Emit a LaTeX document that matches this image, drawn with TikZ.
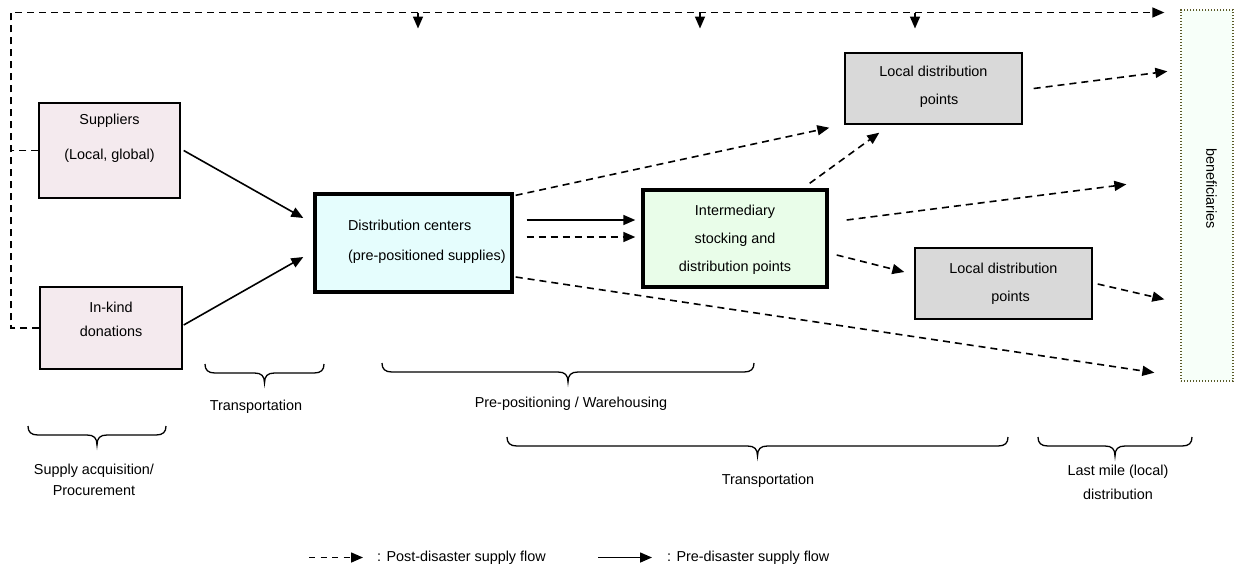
\documentclass[tikz,border=0pt]{standalone}
\usepackage{fontspec}
\setmainfont{Liberation Sans}
\usetikzlibrary{arrows.meta,calc}
\definecolor{pinkbox}{RGB}{244,234,238}
\definecolor{cyanbox}{RGB}{229,253,253}
\definecolor{greenbox}{RGB}{233,253,233}
\definecolor{graybox}{RGB}{217,217,217}
\definecolor{benfill}{RGB}{247,255,249}
\definecolor{benline}{RGB}{90,90,40}
% width, height, top gap, baselineskip, alignment, content
\newcommand{\boxtxt}[6]{\parbox[c][#2][t]{#1}{\fontsize{14.4}{#4}\selectfont #5\vspace*{#3}#6\par}}
% brace: x1, x2, y top
\newcommand{\mycurly}[3]{%
  \pgfmathsetmacro{\cmid}{(#1+#2)/2}%
  \draw[brc] (#1,#3) .. controls (#1,#3+6) and (#1+3,#3+9) .. (#1+10,#3+9)
    -- (\cmid-10,#3+9) .. controls (\cmid-3,#3+9) and (\cmid,#3+12) .. (\cmid,#3+19)
    .. controls (\cmid,#3+12) and (\cmid+3,#3+9) .. (\cmid+10,#3+9)
    -- (#2-10,#3+9) .. controls (#2-3,#3+9) and (#2,#3+6) .. (#2,#3);}
\begin{document}
\begin{tikzpicture}[x=1pt,y=-1pt,font=\fontsize{14.4}{17}\selectfont,
  box/.style={draw, inner sep=0pt, line width=1.4pt},
  thickbox/.style={draw, inner sep=0pt, line width=3.4pt},
  pre/.style={line width=1.6pt, -{Triangle[length=12pt,width=10pt]}},
  post/.style={line width=1.6pt, dash pattern=on 7pt off 5pt, -{Triangle[length=12pt,width=10pt]}},
  dsh/.style={line width=1.6pt, dash pattern=on 7pt off 5pt},
  brc/.style={line width=1.3pt},
  lbl/.style={inner sep=0pt, align=center}]
\useasboundingbox (0,0) rectangle (1235,566);

% boxes
\node[box, fill=pinkbox] (sup) at (109.5,150.5)
  {\boxtxt{141pt}{95pt}{11.5pt}{35pt}{\centering}{Suppliers\\(Local, global)}};
\node[box, fill=pinkbox] (ink) at (111,328)
  {\boxtxt{142pt}{82pt}{15.5pt}{24pt}{\centering}{In-kind\\donations}};
\node[thickbox, fill=cyanbox] (dc) at (413.5,243)
  {\boxtxt{197pt}{98pt}{26.5pt}{30pt}{\raggedright\leftskip=33pt}{Distribution centers\\(pre-positioned supplies)}};
\node[thickbox, fill=greenbox] (int) at (735,238.5)
  {\boxtxt{184pt}{97pt}{15.5pt}{28pt}{\centering}{Intermediary\\stocking and\\distribution points}};
\node[box, fill=graybox] (ldt) at (933.5,88.5)
  {\boxtxt{177pt}{71pt}{13.5pt}{28pt}{\centering}{Local distribution\\\hspace*{11pt}points}};
\node[box, fill=graybox] (ldb) at (1003.5,283.5)
  {\boxtxt{177pt}{71pt}{15.5pt}{28pt}{\centering}{Local distribution\\\hspace*{14pt}points}};
\node[draw=benline, fill=benfill, line width=1.3pt, dash pattern=on 1.3pt off 1.7pt, inner sep=0pt] (ben) at (1207,195.5)
  {\parbox[c][371pt][t]{52pt}{\centering\vspace*{138pt}\hspace*{9pt}\rotatebox{-90}{beneficiaries}\par}};

% feedback / top line
\coordinate (tl) at (11,12.5);
\draw[post] (ink.west) -| (tl) -- ($(ben.north west |- tl)+(-16,0)$);
\draw[dsh] (sup.west) -- (sup.west -| tl);
\foreach \x [count=\i] in {418,700,915} {
  \coordinate (d\i) at (\x,12.5);
  \draw[pre] (d\i) -- ++(0,16);
}

% pre-disaster flows
\draw[pre] ($(sup.east)+(3,0)$) -- ($(dc.west)+(-10,-25)$);
\draw[pre] ($(ink.east)+(1,-3)$) -- ($(dc.west)+(-10,14)$);
\draw[pre] ($(dc.east)+(13,-23)$) -- ($(int.west)+(-6,-18.5)$);

% post-disaster flows
\draw[post] ($(dc.east)+(13,-6)$) -- ($(int.west)+(-6,-1.5)$);
\draw[post] ($(dc.north east)+(2,3)$) -- ($(ldt.south west)+(-15,3)$);
\draw[post] ($(int.north east)+(-19,-5)$) -- ($(ldt.south west)+(35,8)$);
\draw[post] ($(ldt.east)+(11,0)$) -- ($(ben.north west)+(-13,62)$);
\draw[post] ($(int.east)+(18,-18.5)$) -- ($(ben.north west)+(-54,175)$);
\draw[post] ($(int.east)+(8,16.5)$) -- ($(ldb.west)+(-10,-11.5)$);
\draw[post] ($(ldb.east)+(5,0.5)$) -- ($(ben.north west)+(-16,290)$);
\draw[post] ($(dc.east)+(2,34)$) -- ($(ben.south west)+(-26,-9)$);

% braces
\mycurly{28}{166}{426}
\mycurly{205}{324}{364}
\mycurly{382}{754}{363}
\mycurly{507}{1008}{437}
\mycurly{1038}{1192}{437}

% brace labels
\node[lbl] (tTr1) at (256,407) {Transportation};
\node[lbl] (tPre) at (571,404) {Pre-positioning / Warehousing};
\node[lbl, font=\fontsize{14.4}{21}\selectfont] (tSup) at (94,480) {Supply acquisition/\\Procurement};
\node[lbl] (tTr2) at (768,480.5) {Transportation};
\node[lbl, font=\fontsize{14.4}{24}\selectfont] (tLast) at (1118,482) {Last mile (local)\\distribution};

% legend
\coordinate (lg1a) at (309,557.5);
\coordinate (lg1b) at (363,557.5);
\draw[post, dash pattern=on 6pt off 5.5pt] (lg1a) -- (lg1b);
\node[anchor=west, inner sep=0pt] (lg1t) at (377,557.5) {: Post-disaster supply flow};
\coordinate (lg2a) at (598,557.5);
\coordinate (lg2b) at (652,557.5);
\draw[pre] (lg2a) -- (lg2b);
\node[anchor=west, inner sep=0pt] (lg2t) at (667,557.5) {: Pre-disaster supply flow};
\end{tikzpicture}
\end{document}
